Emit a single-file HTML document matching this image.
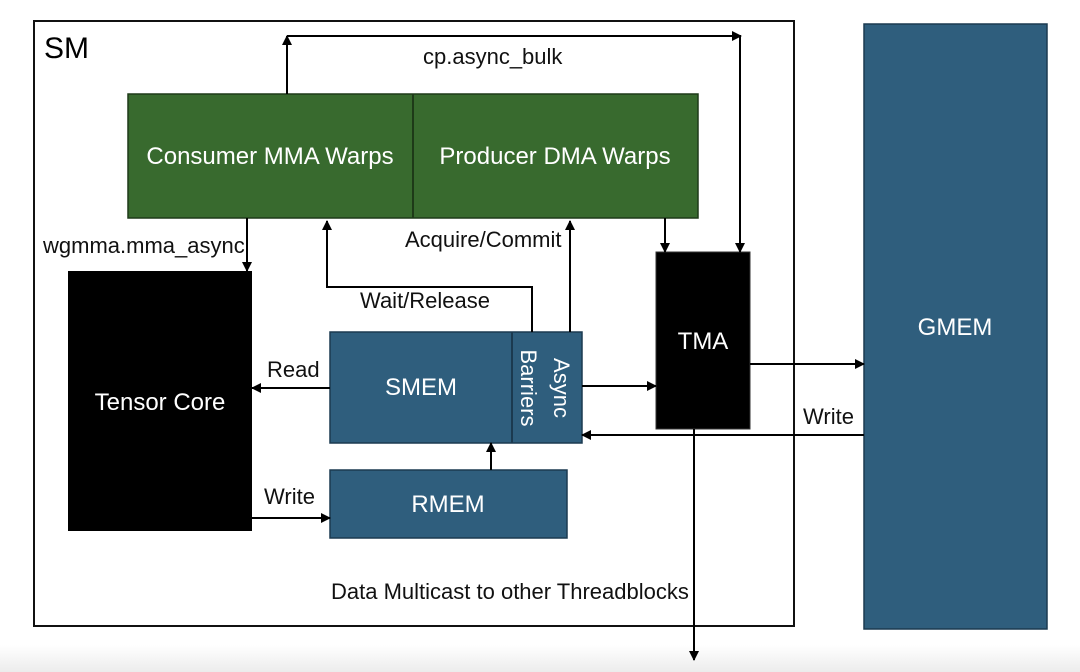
<!DOCTYPE html>
<html><head><meta charset="utf-8"><style>
html,body{margin:0;padding:0;background:#fff;}
svg{display:block;}
text{font-family:"Liberation Sans",sans-serif;}
</style></head><body>
<svg width="1080" height="672" viewBox="0 0 1080 672" xmlns="http://www.w3.org/2000/svg">
<defs>
<linearGradient id="bg" x1="0" y1="0" x2="0" y2="1"><stop offset="0" stop-color="#fff"/><stop offset="1" stop-color="#ececec"/></linearGradient>
<marker id="a" viewBox="0 0 10 10" refX="9" refY="5" markerWidth="5" markerHeight="5" orient="auto-start-reverse"><path d="M0,0 L10,5 L0,10 z" fill="#000"/></marker>
</defs>
<rect x="0" y="645" width="1080" height="27" fill="url(#bg)"/>
<rect x="34" y="21" width="760" height="605" fill="none" stroke="#111" stroke-width="2"/>
<text x="44" y="58" font-size="30">SM</text>
<rect x="128" y="94" width="570" height="124" fill="#386a2e" stroke="#1e3a18" stroke-width="1.5"/>
<line x1="413" y1="94" x2="413" y2="218" stroke="#1e3a18" stroke-width="2"/>
<text x="270" y="164" font-size="24" fill="#fff" text-anchor="middle">Consumer MMA Warps</text>
<text x="555" y="164" font-size="24" fill="#fff" text-anchor="middle">Producer DMA Warps</text>
<rect x="68" y="271" width="184" height="260" fill="#000"/>
<text x="160" y="410" font-size="24" fill="#fff" text-anchor="middle">Tensor Core</text>
<rect x="330" y="332" width="252" height="111" fill="#2f5e7d" stroke="#1b3a50" stroke-width="1.5"/>
<line x1="512" y1="332" x2="512" y2="443" stroke="#1b3a50" stroke-width="2"/>
<text x="421" y="395" font-size="24" fill="#fff" text-anchor="middle">SMEM</text>
<text transform="translate(521,388) rotate(90)" font-size="22" fill="#fff" text-anchor="middle">Barriers</text>
<text transform="translate(554,388) rotate(90)" font-size="22" fill="#fff" text-anchor="middle">Async</text>
<rect x="330" y="470" width="237" height="68" fill="#2f5e7d" stroke="#1b3a50" stroke-width="1.5"/>
<text x="448" y="512" font-size="24" fill="#fff" text-anchor="middle">RMEM</text>
<rect x="656" y="252" width="94" height="177" fill="#000" stroke="#333"/>
<text x="703" y="349" font-size="24" fill="#fff" text-anchor="middle">TMA</text>
<rect x="864" y="24" width="183" height="605" fill="#2f5e7d" stroke="#1b3a50" stroke-width="1.5"/>
<text x="955" y="335" font-size="24" fill="#fff" text-anchor="middle">GMEM</text>
<g stroke="#000" stroke-width="2" fill="none">
<path d="M287,94 L287,36" marker-end="url(#a)"/>
<path d="M287,36 L741,36" marker-end="url(#a)"/>
<path d="M740,36 L740,252" marker-end="url(#a)"/>
<path d="M665,218 L665,252" marker-end="url(#a)"/>
<path d="M247,218 L247,271" marker-end="url(#a)"/>
<path d="M532,332 L532,287 L327,287 L327,221" marker-end="url(#a)"/>
<path d="M570,332 L570,221" marker-end="url(#a)"/>
<path d="M330,388 L252,388" marker-end="url(#a)"/>
<path d="M582,386 L656,386" marker-end="url(#a)"/>
<path d="M750,364 L864,364" marker-end="url(#a)"/>
<path d="M864,435 L582,435" marker-end="url(#a)"/>
<path d="M491,470 L491,443" marker-end="url(#a)"/>
<path d="M252,518 L330,518" marker-end="url(#a)"/>
<path d="M694,429 L694,660" marker-end="url(#a)"/>
</g>
<g font-size="22" fill="#111">
<text x="423" y="64">cp.async_bulk</text>
<text x="43" y="253">wgmma.mma_async</text>
<text x="405" y="247">Acquire/Commit</text>
<text x="360" y="308">Wait/Release</text>
<text x="267" y="377">Read</text>
<text x="264" y="504">Write</text>
<text x="803" y="424">Write</text>
<text x="331" y="599">Data Multicast to other Threadblocks</text>
</g>
</svg>
</body></html>
